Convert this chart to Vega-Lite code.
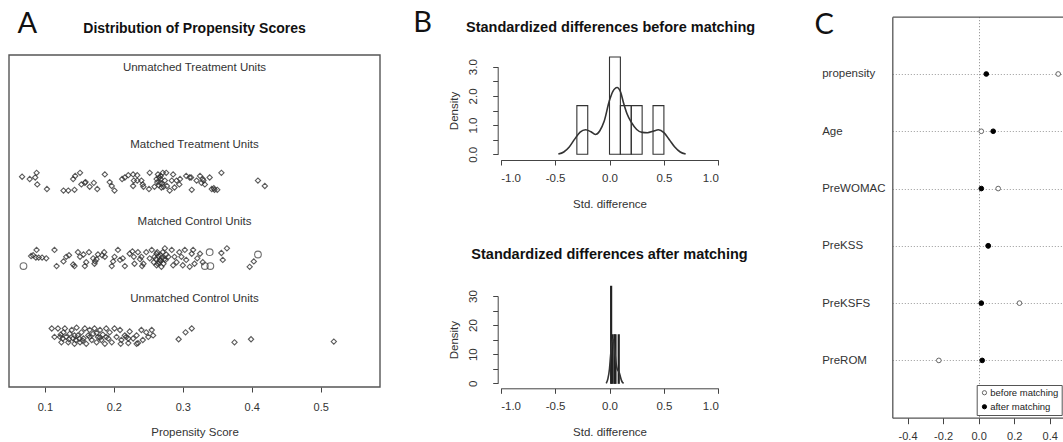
{
 "$schema": "https://vega.github.io/schema/vega-lite/v6.json",
 "width": 1063,
 "height": 442,
 "autosize": {"type": "none"},
 "padding": 0,
 "background": "white",
 "config": {
  "view": {"stroke": null},
  "font": "Liberation Sans",
  "axis": {"grid": false, "labelFont": "Liberation Sans", "titleFont": "Liberation Sans", "labelColor": "#333", "titleColor": "#333", "titleFontWeight": "normal", "domainColor": "#444", "tickColor": "#444", "labelFontSize": 11, "titleFontSize": 11.5, "minExtent": 0, "maxExtent": 400},
  "text": {"font": "Liberation Sans", "color": "#222"}
 },
 "datasets": {
  "ps": [
   {"g":"MT","s":0.067,"y":2.73},{"g":"MT","s":0.078,"y":2.70},{"g":"MT","s":0.086,"y":2.72},{"g":"MT","s":0.088,"y":2.78},{"g":"MT","s":0.089,"y":2.63},{"g":"MT","s":0.103,"y":2.57},{"g":"MT","s":0.127,"y":2.55},{"g":"MT","s":0.134,"y":2.55},{"g":"MT","s":0.143,"y":2.56},{"g":"MT","s":0.141,"y":2.70},{"g":"MT","s":0.144,"y":2.74},{"g":"MT","s":0.151,"y":2.78},{"g":"MT","s":0.153,"y":2.63},{"g":"MT","s":0.158,"y":2.65},{"g":"MT","s":0.159,"y":2.66},{"g":"MT","s":0.165,"y":2.60},{"g":"MT","s":0.171,"y":2.65},{"g":"MT","s":0.176,"y":2.57},{"g":"MT","s":0.187,"y":2.76},{"g":"MT","s":0.194,"y":2.66},{"g":"MT","s":0.197,"y":2.61},{"g":"MT","s":0.201,"y":2.55},{"g":"MT","s":0.212,"y":2.70},{"g":"MT","s":0.216,"y":2.72},{"g":"MT","s":0.221,"y":2.75},{"g":"MT","s":0.228,"y":2.76},{"g":"MT","s":0.234,"y":2.75},{"g":"MT","s":0.229,"y":2.68},{"g":"MT","s":0.234,"y":2.68},{"g":"MT","s":0.228,"y":2.61},{"g":"MT","s":0.242,"y":2.63},{"g":"MT","s":0.240,"y":2.68},{"g":"MT","s":0.243,"y":2.60},{"g":"MT","s":0.252,"y":2.78},{"g":"MT","s":0.251,"y":2.57},{"g":"MT","s":0.259,"y":2.60},{"g":"MT","s":0.262,"y":2.70},{"g":"MT","s":0.264,"y":2.76},{"g":"MT","s":0.267,"y":2.65},{"g":"MT","s":0.268,"y":2.74},{"g":"MT","s":0.271,"y":2.78},{"g":"MT","s":0.269,"y":2.59},{"g":"MT","s":0.274,"y":2.68},{"g":"MT","s":0.276,"y":2.78},{"g":"MT","s":0.277,"y":2.61},{"g":"MT","s":0.281,"y":2.55},{"g":"MT","s":0.284,"y":2.68},{"g":"MT","s":0.286,"y":2.76},{"g":"MT","s":0.288,"y":2.59},{"g":"MT","s":0.291,"y":2.68},{"g":"MT","s":0.295,"y":2.63},{"g":"MT","s":0.296,"y":2.70},{"g":"MT","s":0.305,"y":2.74},{"g":"MT","s":0.310,"y":2.72},{"g":"MT","s":0.313,"y":2.56},{"g":"MT","s":0.320,"y":2.68},{"g":"MT","s":0.325,"y":2.74},{"g":"MT","s":0.327,"y":2.65},{"g":"MT","s":0.332,"y":2.63},{"g":"MT","s":0.329,"y":2.70},{"g":"MT","s":0.339,"y":2.72},{"g":"MT","s":0.342,"y":2.57},{"g":"MT","s":0.346,"y":2.56},{"g":"MT","s":0.350,"y":2.56},{"g":"MT","s":0.356,"y":2.78},{"g":"MT","s":0.409,"y":2.68},{"g":"MT","s":0.419,"y":2.61},{"g":"MT","s":0.263,"y":2.66},{"g":"MT","s":0.265,"y":2.62},{"g":"MT","s":0.268,"y":2.70},{"g":"MT","s":0.270,"y":2.64},{"g":"MT","s":0.266,"y":2.72},{"g":"MT","s":0.272,"y":2.60},{"g":"MT","s":0.312,"y":2.72},{"g":"MT","s":0.330,"y":2.68},{"g":"MT","s":0.345,"y":2.58},
   {"g":"MC","s":0.080,"y":1.70},{"g":"MC","s":0.083,"y":1.71},{"g":"MC","s":0.088,"y":1.78},{"g":"MC","s":0.087,"y":1.68},{"g":"MC","s":0.091,"y":1.68},{"g":"MC","s":0.096,"y":1.68},{"g":"MC","s":0.102,"y":1.67},{"g":"MC","s":0.114,"y":1.78},{"g":"MC","s":0.117,"y":1.57},{"g":"MC","s":0.127,"y":1.63},{"g":"MC","s":0.131,"y":1.69},{"g":"MC","s":0.135,"y":1.71},{"g":"MC","s":0.141,"y":1.59},{"g":"MC","s":0.143,"y":1.57},{"g":"MC","s":0.148,"y":1.75},{"g":"MC","s":0.151,"y":1.69},{"g":"MC","s":0.156,"y":1.72},{"g":"MC","s":0.158,"y":1.57},{"g":"MC","s":0.164,"y":1.75},{"g":"MC","s":0.170,"y":1.67},{"g":"MC","s":0.172,"y":1.60},{"g":"MC","s":0.173,"y":1.63},{"g":"MC","s":0.177,"y":1.72},{"g":"MC","s":0.183,"y":1.71},{"g":"MC","s":0.187,"y":1.69},{"g":"MC","s":0.186,"y":1.75},{"g":"MC","s":0.197,"y":1.57},{"g":"MC","s":0.199,"y":1.63},{"g":"MC","s":0.201,"y":1.69},{"g":"MC","s":0.206,"y":1.78},{"g":"MC","s":0.209,"y":1.65},{"g":"MC","s":0.213,"y":1.67},{"g":"MC","s":0.216,"y":1.57},{"g":"MC","s":0.223,"y":1.73},{"g":"MC","s":0.227,"y":1.76},{"g":"MC","s":0.229,"y":1.69},{"g":"MC","s":0.235,"y":1.75},{"g":"MC","s":0.238,"y":1.66},{"g":"MC","s":0.241,"y":1.57},{"g":"MC","s":0.240,"y":1.69},{"g":"MC","s":0.243,"y":1.60},{"g":"MC","s":0.247,"y":1.75},{"g":"MC","s":0.252,"y":1.67},{"g":"MC","s":0.255,"y":1.78},{"g":"MC","s":0.259,"y":1.69},{"g":"MC","s":0.262,"y":1.73},{"g":"MC","s":0.264,"y":1.60},{"g":"MC","s":0.267,"y":1.65},{"g":"MC","s":0.268,"y":1.71},{"g":"MC","s":0.269,"y":1.56},{"g":"MC","s":0.271,"y":1.75},{"g":"MC","s":0.274,"y":1.80},{"g":"MC","s":0.275,"y":1.65},{"g":"MC","s":0.279,"y":1.69},{"g":"MC","s":0.284,"y":1.78},{"g":"MC","s":0.286,"y":1.58},{"g":"MC","s":0.288,"y":1.69},{"g":"MC","s":0.291,"y":1.62},{"g":"MC","s":0.295,"y":1.75},{"g":"MC","s":0.298,"y":1.69},{"g":"MC","s":0.300,"y":1.58},{"g":"MC","s":0.303,"y":1.78},{"g":"MC","s":0.305,"y":1.65},{"g":"MC","s":0.310,"y":1.56},{"g":"MC","s":0.313,"y":1.73},{"g":"MC","s":0.315,"y":1.78},{"g":"MC","s":0.317,"y":1.60},{"g":"MC","s":0.321,"y":1.67},{"g":"MC","s":0.325,"y":1.73},{"g":"MC","s":0.329,"y":1.62},{"g":"MC","s":0.356,"y":1.74},{"g":"MC","s":0.364,"y":1.80},{"g":"MC","s":0.358,"y":1.65},{"g":"MC","s":0.397,"y":1.56},{"g":"MC","s":0.403,"y":1.63},{"g":"MC","s":0.258,"y":1.62},{"g":"MC","s":0.261,"y":1.66},{"g":"MC","s":0.265,"y":1.70},{"g":"MC","s":0.266,"y":1.62},{"g":"MC","s":0.270,"y":1.68},{"g":"MC","s":0.272,"y":1.60},{"g":"MC","s":0.263,"y":1.75},{"g":"MC","s":0.276,"y":1.72},{"g":"MC","s":0.268,"y":1.64},{"g":"MC","s":0.273,"y":1.66},{"g":"MC","s":0.230,"y":1.60},{"g":"MC","s":0.262,"y":1.58},{"g":"MC","s":0.160,"y":1.62},{"g":"MC","s":0.175,"y":1.66},
   {"g":"UC","s":0.110,"y":0.76},{"g":"UC","s":0.114,"y":0.65},{"g":"UC","s":0.119,"y":0.76},{"g":"UC","s":0.122,"y":0.65},{"g":"UC","s":0.124,"y":0.58},{"g":"UC","s":0.127,"y":0.71},{"g":"UC","s":0.129,"y":0.76},{"g":"UC","s":0.131,"y":0.65},{"g":"UC","s":0.134,"y":0.58},{"g":"UC","s":0.136,"y":0.69},{"g":"UC","s":0.139,"y":0.74},{"g":"UC","s":0.141,"y":0.63},{"g":"UC","s":0.143,"y":0.56},{"g":"UC","s":0.146,"y":0.77},{"g":"UC","s":0.148,"y":0.67},{"g":"UC","s":0.151,"y":0.58},{"g":"UC","s":0.153,"y":0.71},{"g":"UC","s":0.156,"y":0.63},{"g":"UC","s":0.158,"y":0.76},{"g":"UC","s":0.160,"y":0.56},{"g":"UC","s":0.163,"y":0.67},{"g":"UC","s":0.165,"y":0.74},{"g":"UC","s":0.168,"y":0.61},{"g":"UC","s":0.170,"y":0.69},{"g":"UC","s":0.172,"y":0.76},{"g":"UC","s":0.175,"y":0.58},{"g":"UC","s":0.177,"y":0.65},{"g":"UC","s":0.180,"y":0.74},{"g":"UC","s":0.182,"y":0.61},{"g":"UC","s":0.184,"y":0.68},{"g":"UC","s":0.187,"y":0.56},{"g":"UC","s":0.189,"y":0.76},{"g":"UC","s":0.192,"y":0.63},{"g":"UC","s":0.194,"y":0.71},{"g":"UC","s":0.197,"y":0.58},{"g":"UC","s":0.201,"y":0.76},{"g":"UC","s":0.204,"y":0.65},{"g":"UC","s":0.209,"y":0.74},{"g":"UC","s":0.211,"y":0.61},{"g":"UC","s":0.216,"y":0.67},{"g":"UC","s":0.221,"y":0.57},{"g":"UC","s":0.223,"y":0.72},{"g":"UC","s":0.228,"y":0.63},{"g":"UC","s":0.233,"y":0.67},{"g":"UC","s":0.235,"y":0.57},{"g":"UC","s":0.240,"y":0.74},{"g":"UC","s":0.242,"y":0.61},{"g":"UC","s":0.247,"y":0.71},{"g":"UC","s":0.250,"y":0.65},{"g":"UC","s":0.255,"y":0.74},{"g":"UC","s":0.257,"y":0.67},{"g":"UC","s":0.123,"y":0.68},{"g":"UC","s":0.126,"y":0.63},{"g":"UC","s":0.143,"y":0.67},{"g":"UC","s":0.150,"y":0.63},{"g":"UC","s":0.145,"y":0.61},{"g":"UC","s":0.189,"y":0.65},{"g":"UC","s":0.165,"y":0.65},{"g":"UC","s":0.180,"y":0.64},{"g":"UC","s":0.218,"y":0.65},{"g":"UC","s":0.221,"y":0.63},{"g":"UC","s":0.210,"y":0.56},{"g":"UC","s":0.233,"y":0.56},{"g":"UC","s":0.135,"y":0.62},{"g":"UC","s":0.155,"y":0.60},{"g":"UC","s":0.175,"y":0.70},{"g":"UC","s":0.294,"y":0.62},{"g":"UC","s":0.304,"y":0.71},{"g":"UC","s":0.313,"y":0.76},{"g":"UC","s":0.375,"y":0.58},{"g":"UC","s":0.399,"y":0.62},{"g":"UC","s":0.519,"y":0.59}
  ],
  "big": [{"g":"MC","s":0.069,"y":1.57},{"g":"MC","s":0.332,"y":1.57},{"g":"MC","s":0.339,"y":1.75},{"g":"MC","s":0.340,"y":1.57},{"g":"MC","s":0.409,"y":1.72}],
  "grp": [{"label":"Unmatched Treatment Units","level":4},{"label":"Matched Treatment Units","level":3},{"label":"Matched Control Units","level":2},{"label":"Unmatched Control Units","level":1}],
  "histB": [{"lo":-0.3,"hi":-0.2,"density":1.667},{"lo":0,"hi":0.1,"density":3.333},{"lo":0.1,"hi":0.2,"density":1.667},{"lo":0.2,"hi":0.3,"density":1.667},{"lo":0.4,"hi":0.5,"density":1.667}],
  "densB": [{"x":-0.47,"d":0.01},{"x":-0.42,"d":0.08},{"x":-0.37,"d":0.25},{"x":-0.32,"d":0.52},{"x":-0.27,"d":0.76},{"x":-0.22,"d":0.84},{"x":-0.17,"d":0.77},{"x":-0.13,"d":0.68},{"x":-0.09,"d":0.8},{"x":-0.05,"d":1.12},{"x":0.0,"d":1.85},{"x":0.03,"d":2.15},{"x":0.07,"d":2.29},{"x":0.1,"d":2.15},{"x":0.13,"d":1.75},{"x":0.16,"d":1.4},{"x":0.2,"d":1.1},{"x":0.25,"d":0.85},{"x":0.3,"d":0.75},{"x":0.35,"d":0.74},{"x":0.4,"d":0.79},{"x":0.45,"d":0.84},{"x":0.5,"d":0.74},{"x":0.55,"d":0.5},{"x":0.6,"d":0.25},{"x":0.65,"d":0.08},{"x":0.7,"d":0.01}],
  "histA": [{"lo":0.01,"hi":0.02,"density":33.33},{"lo":0.02,"hi":0.03,"density":16.67},{"lo":0.04,"hi":0.05,"density":16.67},{"lo":0.05,"hi":0.06,"density":16.67},{"lo":0.08,"hi":0.09,"density":16.67}],
  "densA": [{"x":-0.03,"d":0},{"x":-0.015,"d":1.5},{"x":0.0,"d":5},{"x":0.01,"d":9.5},{"x":0.02,"d":13.5},{"x":0.03,"d":15.2},{"x":0.04,"d":14},{"x":0.05,"d":10.5},{"x":0.06,"d":7},{"x":0.07,"d":5},{"x":0.08,"d":4.3},{"x":0.09,"d":3.6},{"x":0.1,"d":2.3},{"x":0.11,"d":1},{"x":0.12,"d":0.3},{"x":0.13,"d":0}],
  "bal": [
   {"var":"propensity","type":"before matching","diff":0.448},{"var":"Age","type":"before matching","diff":0.015},{"var":"PreWOMAC","type":"before matching","diff":0.11},{"var":"PreKSS","type":"before matching","diff":0.054},{"var":"PreKSFS","type":"before matching","diff":0.23},{"var":"PreROM","type":"before matching","diff":-0.224},
   {"var":"propensity","type":"after matching","diff":0.043},{"var":"Age","type":"after matching","diff":0.082},{"var":"PreWOMAC","type":"after matching","diff":0.015},{"var":"PreKSS","type":"after matching","diff":0.054},{"var":"PreKSFS","type":"after matching","diff":0.015},{"var":"PreROM","type":"after matching","diff":0.02}
  ]
 },
 "layer": [
  {
   "resolve": {"axis": {"x": "independent", "y": "independent"}},
   "layer": [
    {
     "data": {"name": "ps"},
     "mark": {"type": "point", "shape": "diamond", "size": 28, "stroke": "#333", "strokeWidth": 1.1, "opacity": 0.8, "filled": false},
     "encoding": {
      "x": {"field": "s", "type": "quantitative", "scale": {"domain": [0.048, 0.586], "range": [9, 380], "nice": false, "zero": false},
       "axis": {"orient": "bottom", "offset": -55, "values": [0.1, 0.2, 0.3, 0.4, 0.5], "labelExpr": "format(datum.value, '.1f')", "domain": false, "tickSize": 5, "labelPadding": 9, "title": "Propensity Score", "titlePadding": 14}},
      "y": {"field": "y", "type": "quantitative", "scale": {"domain": [0, 4.31], "range": [387, 55], "nice": false, "zero": false}, "axis": null}
     }
    },
    {
     "data": {"name": "big"},
     "mark": {"type": "point", "shape": "circle", "size": 45, "stroke": "#333", "strokeWidth": 1.1, "filled": false},
     "encoding": {"x": {"field": "s", "type": "quantitative", "axis": null}, "y": {"field": "y", "type": "quantitative", "axis": null}}
    },
    {
     "data": {"values": [{}]},
     "mark": {"type": "rect", "fillOpacity": 0, "stroke": "#555", "strokeWidth": 1.4},
     "encoding": {"x": {"datum": 0.048, "type": "quantitative", "axis": null}, "x2": {"datum": 0.586}, "y": {"datum": 0, "type": "quantitative", "axis": null}, "y2": {"datum": 4.31}}
    },
    {
     "data": {"name": "grp"},
     "mark": {"type": "text", "fontSize": 11.5, "dy": -11, "color": "#333"},
     "encoding": {"x": {"datum": 0.317, "type": "quantitative", "axis": null}, "y": {"field": "level", "type": "quantitative", "axis": null}, "text": {"field": "label"}}
    },
    {
     "data": {"values": [{}]},
     "mark": {"type": "text", "text": "Distribution of Propensity Scores", "fontSize": 14, "fontWeight": "bold", "color": "#111"},
     "encoding": {"x": {"datum": 0.317, "type": "quantitative", "axis": null}, "y": {"datum": 4.649, "type": "quantitative", "axis": null}}
    },
    {
     "data": {"values": [{}]},
     "mark": {"type": "text", "text": "A", "fontSize": 29, "font": "Lato", "color": "#111"},
     "encoding": {"x": {"datum": 0.0746, "type": "quantitative", "axis": null}, "y": {"datum": 4.714, "type": "quantitative", "axis": null}}
    }
   ]
  },
  {
   "resolve": {"axis": {"x": "independent", "y": "independent"}},
   "layer": [
    {
     "data": {"name": "histB"},
     "mark": {"type": "rect", "fillOpacity": 0, "stroke": "#333", "strokeWidth": 1.1},
     "encoding": {
      "x": {"field": "lo", "type": "quantitative", "scale": {"domain": [-1, 1], "range": [500.7, 718.3], "nice": false, "zero": false},
       "axis": {"orient": "bottom", "offset": -282, "values": [-1, -0.5, 0, 0.5, 1], "labelExpr": "(datum.value < 0 ? '-' : '') + format(abs(datum.value), '.1f')", "tickSize": 5, "labelPadding": 7, "labelFontSize": 11.5, "title": "Std. difference", "titlePadding": 15}},
      "x2": {"field": "hi"},
      "y": {"field": "density", "type": "quantitative", "scale": {"domain": [0, 3], "range": [154.3, 66.7], "nice": false, "zero": false},
       "axis": {"orient": "left", "offset": -497.7, "values": [0, 0.5, 1, 1.5, 2, 2.5, 3], "labelExpr": "datum.value % 1 === 0 ? format(datum.value, '.1f') : ''", "labelAngle": -90, "labelAlign": "center", "labelBaseline": "bottom", "tickSize": 5, "labelPadding": 14, "labelFontSize": 11.5, "title": "Density", "titlePadding": 8}},
      "y2": {"datum": 0}
     }
    },
    {
     "data": {"name": "densB"},
     "mark": {"type": "line", "stroke": "#333", "strokeWidth": 1.6, "interpolate": "monotone"},
     "encoding": {"x": {"field": "x", "type": "quantitative", "axis": null}, "y": {"field": "d", "type": "quantitative", "axis": null}}
    },
    {
     "data": {"values": [{}]},
     "mark": {"type": "text", "text": "Standardized differences before matching", "fontSize": 14.5, "fontWeight": "bold", "color": "#111"},
     "encoding": {"x": {"datum": 0.01, "type": "quantitative", "axis": null}, "y": {"datum": 4.325, "type": "quantitative", "axis": null}}
    },
    {
     "data": {"values": [{}]},
     "mark": {"type": "text", "text": "B", "fontSize": 29, "font": "Lato", "color": "#111"},
     "encoding": {"x": {"datum": -1.717, "type": "quantitative", "axis": null}, "y": {"datum": 4.497, "type": "quantitative", "axis": null}}
    },
    {
     "data": {"values": [{}]},
     "mark": {"type": "text", "text": "C", "fontSize": 29, "font": "Lato", "color": "#111"},
     "encoding": {"x": {"datum": 1.973, "type": "quantitative", "axis": null}, "y": {"datum": 4.428, "type": "quantitative", "axis": null}}
    }
   ]
  },
  {
   "resolve": {"axis": {"x": "independent", "y": "independent"}},
   "layer": [
    {
     "data": {"name": "histA"},
     "mark": {"type": "rect", "fillOpacity": 0, "stroke": "#222", "strokeWidth": 1.1},
     "encoding": {
      "x": {"field": "lo", "type": "quantitative", "scale": {"domain": [-1, 1], "range": [500.7, 718.3], "nice": false, "zero": false},
       "axis": {"orient": "bottom", "offset": -53.7, "values": [-1, -0.5, 0, 0.5, 1], "labelExpr": "(datum.value < 0 ? '-' : '') + format(abs(datum.value), '.1f')", "tickSize": 5, "labelPadding": 7, "labelFontSize": 11.5, "title": "Std. difference", "titlePadding": 15}},
      "x2": {"field": "hi"},
      "y": {"field": "density", "type": "quantitative", "scale": {"domain": [0, 30], "range": [383.3, 296], "nice": false, "zero": false},
       "axis": {"orient": "left", "offset": -497.7, "values": [0, 5, 10, 15, 20, 25, 30], "labelExpr": "datum.value % 10 === 0 ? format(datum.value, 'd') : ''", "labelAngle": -90, "labelAlign": "center", "labelBaseline": "bottom", "tickSize": 5, "labelPadding": 14, "labelFontSize": 11.5, "title": "Density", "titlePadding": 8}},
      "y2": {"datum": 0}
     }
    },
    {
     "data": {"name": "densA"},
     "mark": {"type": "line", "stroke": "#333", "strokeWidth": 1.6, "interpolate": "monotone"},
     "encoding": {"x": {"field": "x", "type": "quantitative", "axis": null}, "y": {"field": "d", "type": "quantitative", "axis": null}}
    },
    {
     "data": {"values": [{}]},
     "mark": {"type": "text", "text": "Standardized differences after matching", "fontSize": 14.5, "fontWeight": "bold", "color": "#111"},
     "encoding": {"x": {"datum": 0.0, "type": "quantitative", "axis": null}, "y": {"datum": 44.09, "type": "quantitative", "axis": null}}
    }
   ]
  },
  {
   "data": {"name": "bal"},
   "resolve": {"axis": {"x": "independent", "y": "independent"}},
   "layer": [
    {
     "mark": {"type": "point", "opacity": 0},
     "encoding": {
      "x": {"field": "diff", "type": "quantitative", "scale": {"domain": [-0.486, 0.475], "range": [892.3, 1063], "nice": false, "zero": false},
       "axis": {"orient": "top", "offset": -16.7, "values": [0], "grid": true, "gridDash": [1, 2], "gridColor": "#888", "ticks": false, "labels": false, "domain": true, "domainColor": "#555", "domainWidth": 1.3, "title": null}},
      "y": {"field": "var", "type": "nominal", "sort": ["propensity", "Age", "PreWOMAC", "PreKSS", "PreKSFS", "PreROM"], "scale": {"domain": ["propensity", "Age", "PreWOMAC", "PreKSS", "PreKSFS", "PreROM"], "range": [16.7, 417.7], "padding": 1}, "axis": null}
     }
    },
    {
     "mark": {"type": "point", "size": 22, "strokeWidth": 1, "opacity": 1},
     "encoding": {
      "x": {"field": "diff", "type": "quantitative",
       "axis": {"orient": "bottom", "offset": -24.3, "values": [-0.4, -0.2, 0, 0.2, 0.4], "labelExpr": "(datum.value < 0 ? '-' : '') + format(abs(datum.value), '.1f')", "tickSize": 6, "labelPadding": 7, "title": null, "domainColor": "#555", "domainWidth": 1.3}},
      "y": {"field": "var", "type": "nominal", "sort": ["propensity", "Age", "PreWOMAC", "PreKSS", "PreKSFS", "PreROM"],
       "axis": {"orient": "left", "offset": -892.3, "title": null, "ticks": false, "tickSize": 0, "labelAlign": "left", "labelPadding": 70.6, "labelFontSize": 11.5, "grid": true, "gridDash": [1, 2], "gridColor": "#999", "domainColor": "#555", "domainWidth": 1.3}},
      "fill": {"field": "type", "type": "nominal", "scale": {"domain": ["before matching", "after matching"], "range": ["white", "black"]},
       "legend": {"orient": "none", "legendX": 976.7, "legendY": 385, "title": null, "strokeColor": "#555", "fillColor": "white", "padding": 3, "rowPadding": 3, "labelFontSize": 9.5, "labelColor": "#222", "labelFont": "Liberation Sans", "symbolSize": 18, "labelOffset": 1, "symbolStrokeWidth": 1}},
      "stroke": {"field": "type", "type": "nominal", "scale": {"domain": ["before matching", "after matching"], "range": ["#666", "black"]},
       "legend": {"orient": "none", "legendX": 976.7, "legendY": 385, "title": null, "strokeColor": "#555", "fillColor": "white", "padding": 3, "rowPadding": 3, "labelFontSize": 9.5, "labelColor": "#222", "labelFont": "Liberation Sans", "symbolSize": 18, "labelOffset": 1, "symbolStrokeWidth": 1}}
     }
    }
   ]
  }
 ],
 "resolve": {"scale": {"x": "independent", "y": "independent"}, "axis": {"x": "independent", "y": "independent"}}
}
